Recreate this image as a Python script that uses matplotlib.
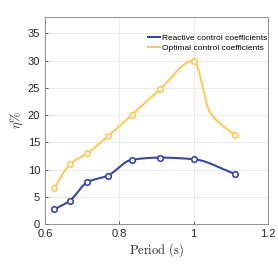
import numpy as np
import matplotlib
matplotlib.use("Agg")
import matplotlib.pyplot as plt

period = [0.625, 0.667, 0.714, 0.769, 0.833, 0.909, 1.0, 1.111]
reactive = [2.7, 4.3, 7.7, 8.9, 11.8, 12.2, 11.9, 9.2]
optimal = [6.6, 11.0, 13.0, 16.1, 20.0, 24.7, 30.0, 16.3]
# unmarked knot on the optimal curve
optimal_line_x = [0.625, 0.667, 0.714, 0.769, 0.833, 0.909, 1.0, 1.044, 1.111]
optimal_line_y = [6.6, 11.0, 13.0, 16.1, 20.0, 24.7, 30.0, 20.5, 16.3]
labels = ["Reactive control coefficients", "Optimal control coefficients"]
colors = ["#3a47a8", "#fdc95c"]

def pchip(x, y, xs):
    x = np.asarray(x, float); y = np.asarray(y, float)
    h = np.diff(x); d = np.diff(y) / h
    n = len(x); m = np.zeros(n)
    for k in range(1, n - 1):
        if d[k-1] * d[k] > 0:
            w1 = 2*h[k] + h[k-1]; w2 = h[k] + 2*h[k-1]
            m[k] = (w1 + w2) / (w1/d[k-1] + w2/d[k])
    m[0] = d[0]
    m[-1] = d[-1]
    idx = np.clip(np.searchsorted(x, xs) - 1, 0, n - 2)
    t = (xs - x[idx]) / h[idx]
    h00 = 2*t**3 - 3*t**2 + 1; h10 = t**3 - 2*t**2 + t
    h01 = -2*t**3 + 3*t**2; h11 = t**3 - t**2
    return h00*y[idx] + h10*h[idx]*m[idx] + h01*y[idx+1] + h11*h[idx]*m[idx+1]

plt.rcParams['mathtext.fontset'] = 'cm'
fig = plt.figure(figsize=(2.78, 2.78), dpi=100)
ax = fig.add_axes([0.162, 0.194, 0.802, 0.745])

xs = np.linspace(period[0], period[-1], 400)
ax.plot(xs, pchip(period, reactive, xs), color=colors[0], lw=1.5, label=labels[0])
ax.plot(period, reactive, 'o', color=colors[0], mfc='white', mec=colors[0], mew=1.2, ms=4)
ax.plot(xs, pchip(optimal_line_x, optimal_line_y, xs), color=colors[1], lw=1.5, label=labels[1])
ax.plot(period, optimal, 'o', color=colors[1], mfc='white', mec=colors[1], mew=1.2, ms=4)

ax.set_xlim(0.6, 1.2)
ax.set_ylim(0, 38)
ax.set_xticks([0.6, 0.8, 1.0, 1.2])
ax.set_xticklabels(["0.6", "0.8", "1", "1.2"])
ax.set_yticks([0, 5, 10, 15, 20, 25, 30, 35])
ax.grid(True, color='#e6e6e6', lw=0.6)
ax.set_axisbelow(True)
for s in ax.spines.values():
    s.set_color('#808080'); s.set_linewidth(0.6)
ax.tick_params(labelsize=8, colors='#262626', length=2, width=0.5, direction='in')
for t in ax.get_xticklabels() + ax.get_yticklabels():
    t.set_fontfamily('Liberation Sans')
ax.set_xlabel(r'$\mathrm{Period\ (s)}$', fontsize=9, color='#262626', labelpad=2)
ax.set_ylabel(r'$\eta\%$', fontsize=9, color='#262626', labelpad=2)
handles, labs = ax.get_legend_handles_labels()
leg = ax.legend(handles, labs, loc='upper right', bbox_to_anchor=(1.0, 0.92),
                frameon=False, handlelength=1.5, handletextpad=0.2,
                borderaxespad=0.0, borderpad=0.1, labelspacing=0.25,
                prop={'family': 'Liberation Sans', 'size': 6})
fig.savefig('out.png', dpi=100)
